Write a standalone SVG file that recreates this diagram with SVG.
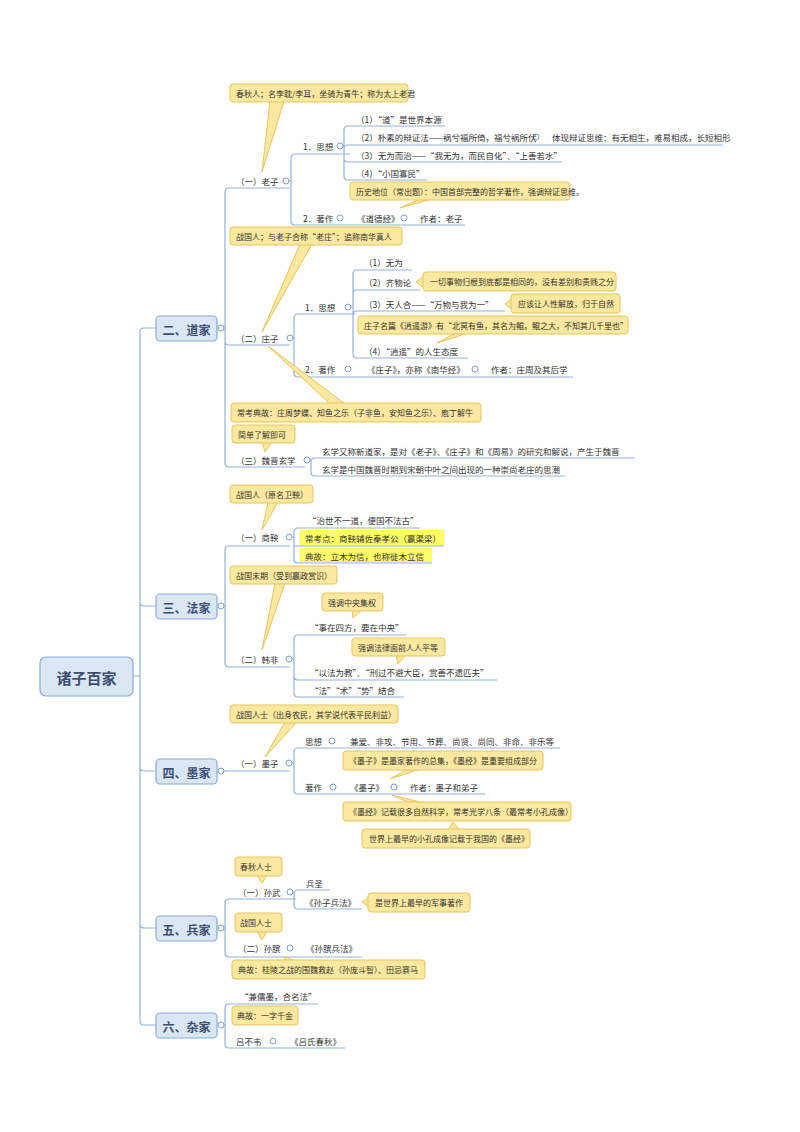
<svg xmlns="http://www.w3.org/2000/svg" width="800" height="1132" viewBox="0 0 800 1132">
<style>
.ln{fill:none;stroke:#93b1dc;stroke-width:1.2}
.c{fill:#fff;stroke:#7d9fd2;stroke-width:1}
text{font-family:"Noto Sans CJK SC","Noto Sans",sans-serif;font-size:8.5px;fill:#333;dominant-baseline:central}
.br rect{fill:#dbe6f4;stroke:#8aaad6;stroke-width:1.2}
.br text{font-size:12px;font-weight:bold;fill:#3a4f72;text-anchor:middle}
.co rect,.co path{fill:#fce89e;stroke:#e5c55e;stroke-width:1}
.co text{font-size:8px}
.hl{fill:#ffff66}
</style>
<rect width="800" height="1132" fill="#fff"/>
<g id="connectors">
<path class="ln" d="M133,676 H140 V332 Q140,328 144,328 H156 M140,676 V1021 Q140,1025 144,1025 H156 M140,602 Q140,606 144,606 H156 M140,767 Q140,771 144,771 H156 M140,924 Q140,928 144,928 H156"/>
<path class="ln" d="M224,328 H225 V192 Q225,188 229,188 H290 M225,328 V463 Q225,467 229,467 H305 M225,341 Q225,345 229,345 H290"/>
<path class="ln" d="M289,181 H291 V158 Q291,154 295,154 H350 M291,181 V221 Q291,225 295,225 H465"/>
<path class="ln" d="M343,146 H344 V130 Q344,126 348,126 H445 M344,146 V176 Q344,180 348,180 H427 M344,149 Q344,145 348,145 H723 M344,158 Q344,162 348,162 H562"/>
<path class="ln" d="M293,338 H294 V318 Q294,314 298,314 H355 M294,338 V373 Q294,377 298,377 H573"/>
<path class="ln" d="M351,307 H353 V274 Q353,270 357,270 H412 M353,307 V354 Q353,358 357,358 H468 M353,294 Q353,290 357,290 H420 M353,315 Q353,311 357,311 H505"/>
<path class="ln" d="M310,460 H311 V462 Q311,458 315,458 H635 M311,460 V472 Q311,476 315,476 H565"/>
<path class="ln" d="M224,606 H225 V550 Q225,546 229,546 H290 M225,606 V663 Q225,667 229,667 H290"/>
<path class="ln" d="M292,537 H294 V532 Q294,528 298,528 H420 M294,537 V559 Q294,563 298,563 H432 M294,546 H444"/>
<path class="ln" d="M292,659 H294 V639 Q294,635 298,635 H406 M294,659 V693 Q294,697 298,697 H404 M294,676 Q294,680 298,680 H497"/>
<path class="ln" d="M224,771 H290"/>
<path class="ln" d="M292,763 H294 V752 Q294,748 298,748 H560 M294,763 V790 Q294,794 298,794 H485"/>
<path class="ln" d="M224,928 H225 V903 Q225,899 229,899 H296 M225,928 V953 Q225,957 229,957 H362"/>
<path class="ln" d="M293,892 H294 V894 Q294,890 298,890 H330 M294,892 V905 Q294,909 298,909 H362"/>
<path class="ln" d="M224,1025 H225 V1008 Q225,1004 229,1004 H318 M225,1025 V1044 Q225,1048 229,1048 H345"/>
</g>
<g id="root" class="br"><rect x="40" y="657" width="93" height="39" rx="6"/><text x="86.5" y="677" style="font-size:15px">诸子百家</text></g>
<g id="daojia" class="br"><rect x="156" y="316" width="61" height="25" rx="4"/><text x="186.5" y="329">二、道家</text></g>
<g id="fajia" class="br"><rect x="156" y="594" width="61" height="25" rx="4"/><text x="186.5" y="607">三、法家</text></g>
<g id="mojia" class="br"><rect x="156" y="759" width="61" height="25" rx="4"/><text x="186.5" y="772">四、墨家</text></g>
<g id="bingjia" class="br"><rect x="156" y="916" width="61" height="25" rx="4"/><text x="186.5" y="929">五、兵家</text></g>
<g id="zajia" class="br"><rect x="156" y="1013" width="61" height="25" rx="4"/><text x="186.5" y="1026">六、杂家</text></g>
<g id="circles">
<circle class="c" cx="221" cy="328" r="3"/><circle class="c" cx="221" cy="606" r="3"/><circle class="c" cx="221" cy="771" r="3"/><circle class="c" cx="221" cy="928" r="3"/><circle class="c" cx="221" cy="1025" r="3"/>
<circle class="c" cx="286" cy="181" r="3"/><circle class="c" cx="340" cy="146" r="3"/><circle class="c" cx="536" cy="137" r="3"/><circle class="c" cx="340" cy="218" r="3"/><circle class="c" cx="404" cy="218" r="3"/>
<circle class="c" cx="290" cy="338" r="3"/><circle class="c" cx="348" cy="307" r="3"/><circle class="c" cx="348" cy="369" r="3"/><circle class="c" cx="475" cy="369" r="3"/><circle class="c" cx="307" cy="460" r="3"/>
<circle class="c" cx="289" cy="537" r="3"/><circle class="c" cx="289" cy="659" r="3"/>
<circle class="c" cx="289" cy="763" r="3"/><circle class="c" cx="332" cy="741" r="3"/><circle class="c" cx="333" cy="787" r="3"/><circle class="c" cx="394" cy="787" r="3"/>
<circle class="c" cx="290" cy="892" r="3"/><circle class="c" cx="290" cy="948" r="3"/><circle class="c" cx="273" cy="1041" r="3"/>
</g>
<g id="laozi">
<text x="236" y="181">（一）老子</text>
<text x="303" y="146">1．思想</text>
<text x="356" y="119">（1）“道”是世界本源</text>
<text x="356" y="137">（2）朴素的辩证法——祸兮福所倚，福兮祸所伏</text>
<text x="552" y="137">体现辩证思维：有无相生，难易相成，长短相形</text>
<text x="356" y="155">（3）无为而治——“我无为，而民自化”、“上善若水”</text>
<text x="356" y="173">（4）“小国寡民”</text>
<text x="303" y="218">2．著作</text>
<text x="357" y="218">《道德经》</text>
<text x="420" y="218">作者：老子</text>
</g>
<g id="zhuangzi">
<text x="236" y="338">（二）庄子</text>
<text x="305" y="307">1．思想</text>
<text x="364" y="262">（1）无为</text>
<text x="364" y="282">（2）齐物论</text>
<text x="364" y="304">（3）天人合——“万物与我为一”</text>
<text x="364" y="351">（4）“逍遥”的人生态度</text>
<text x="305" y="369">2．著作</text>
<text x="367" y="369">《庄子》，亦称《南华经》</text>
<text x="491" y="369">作者：庄周及其后学</text>
<text x="236" y="460">（三）魏晋玄学</text>
<text x="322" y="451">玄学又称新道家，是对《老子》、《庄子》和《周易》的研究和解说，产生于魏晋</text>
<text x="322" y="469">玄学是中国魏晋时期到宋朝中叶之间出现的一种崇尚老庄的思潮</text>
</g>
<g id="fa">
<text x="236" y="537">（一）商鞅</text>
<text x="308" y="520">“治世不一道，便国不法古”</text>
<rect class="hl" x="300" y="530" width="144" height="15"/><text x="305" y="538">常考点：商鞅辅佐秦孝公（赢渠梁）</text>
<rect class="hl" x="300" y="548" width="132" height="14"/><text x="305" y="556">典故：立木为信，也称徙木立信</text>
<text x="236" y="659">（二）韩非</text>
<text x="310" y="627">“事在四方，要在中央”</text>
<text x="310" y="672">“以法为教”、“刑过不避大臣，赏善不遗匹夫”</text>
<text x="310" y="690">“法”“术”“势”结合</text>
</g>
<g id="mo">
<text x="236" y="763">（一）墨子</text>
<text x="305" y="741">思想</text>
<text x="350" y="741">兼爱、非攻、节用、节葬、尚贤、尚同、非命、非乐等</text>
<text x="305" y="787">著作</text>
<text x="350" y="787">《墨子》</text>
<text x="410" y="787">作者：墨子和弟子</text>
</g>
<g id="bing">
<text x="238" y="892">（一）孙武</text>
<text x="306" y="883">兵圣</text>
<text x="305" y="902">《孙子兵法》</text>
<text x="238" y="948">（二）孙膑</text>
<text x="306" y="948">《孙膑兵法》</text>
</g>
<g id="za">
<text x="240" y="996">“兼儒墨，合名法”</text>
<text x="236" y="1041">吕不韦</text>
<text x="290" y="1041">《吕氏春秋》</text>
</g>
<g id="callouts">
<g class="co"><path d="M262,172 L270,101 L284,101 Z"/><rect x="230" y="84" width="178" height="18" rx="3"/><text x="236" y="93">春秋人；名李耽/李耳，坐骑为青牛；称为太上老君</text></g>
<g class="co"><path d="M400,208 L420,199 L432,199 Z"/><rect x="350" y="182" width="220" height="18" rx="3"/><text x="356" y="191">历史地位（常出题）：中国首部完整的哲学著作，强调辩证思维。</text></g>
<g class="co"><path d="M262,332 L300,244 L312,244 Z"/><rect x="230" y="227" width="172" height="18" rx="3"/><text x="236" y="236">战国人；与老子合称“老庄”；追称南华真人</text></g>
<g class="co"><path d="M416,282 L424,276 L424,288 Z"/><rect x="423" y="272" width="193" height="19" rx="3"/><text x="430" y="281.5">一切事物归根到底都是相同的，没有差别和贵贱之分</text></g>
<g class="co"><path d="M505,304 L512,298 L512,310 Z"/><rect x="511" y="294" width="109" height="19" rx="3"/><text x="518" y="303.5">应该让人性解放，归于自然</text></g>
<g class="co"><path d="M437,343 L455,333 L468,333 Z"/><rect x="358" y="316" width="270" height="18" rx="3"/><text x="364" y="325">庄子名篇《逍遥游》有“北冥有鱼，其名为鲲。鲲之大，不知其几千里也”</text></g>
<g class="co"><path d="M268,346 L330,404 L345,404 Z"/><rect x="231" y="403" width="250" height="19" rx="3"/><text x="237" y="412.5">常考典故：庄周梦蝶、知鱼之乐（子非鱼，安知鱼之乐）、庖丁解牛</text></g>
<g class="co"><path d="M265,452 L262,442 L272,442 Z"/><rect x="232" y="425" width="63" height="18" rx="3"/><text x="238" y="434">简单了解即可</text></g>
<g class="co"><path d="M262,530 L268,502 L278,502 Z"/><rect x="230" y="485" width="83" height="18" rx="3"/><text x="236" y="494">战国人（原名卫鞅）</text></g>
<g class="co"><path d="M262,650 L275,583 L285,583 Z"/><rect x="230" y="566" width="107" height="18" rx="3"/><text x="236" y="575">战国末期（受到嬴政赏识）</text></g>
<g class="co"><path d="M353,618 L352,610 L362,610 Z"/><rect x="322" y="593" width="61" height="18" rx="3"/><text x="328" y="602">强调中央集权</text></g>
<g class="co"><path d="M398,664 L396,655 L406,655 Z"/><rect x="352" y="638" width="93" height="18" rx="3"/><text x="358" y="647">强调法律面前人人平等</text></g>
<g class="co"><path d="M265,757 L285,722 L297,722 Z"/><rect x="230" y="705" width="168" height="18" rx="3"/><text x="236" y="714">战国人士（出身农民，其学说代表平民利益）</text></g>
<g class="co"><path d="M390,779 L408,769 L420,769 Z"/><rect x="343" y="751" width="200" height="19" rx="3"/><text x="349" y="760.5">《墨子》是墨家著作的总集，《墨经》是重要组成部分</text></g>
<g class="co"><path d="M392,795 L410,803 L424,803 Z"/><rect x="343" y="802" width="228" height="19" rx="3"/><text x="349" y="811.5">《墨经》记载很多自然科学，常考光学八条（最常考小孔成像）</text></g>
<g class="co"><path d="M453,822 L448,830 L460,830 Z"/><rect x="362" y="829" width="168" height="19" rx="3"/><text x="369" y="838.5">世界上最早的小孔成像记载于我国的《墨经》</text></g>
<g class="co"><path d="M262,883 L257,875 L267,875 Z"/><rect x="235" y="857" width="47" height="19" rx="3"/><text x="240" y="866.5">春秋人士</text></g>
<g class="co"><path d="M362,902 L369,897 L369,907 Z"/><rect x="368" y="893" width="102" height="19" rx="3"/><text x="375" y="902.5">是世界上最早的军事著作</text></g>
<g class="co"><path d="M262,940 L257,931 L267,931 Z"/><rect x="235" y="913" width="47" height="19" rx="3"/><text x="240" y="922.5">战国人士</text></g>
<g class="co"><path d="M285,957 L284,961 L296,961 Z"/><rect x="232" y="960" width="193" height="19" rx="3"/><text x="238" y="969.5">典故：桂陵之战的围魏救赵（孙庞斗智）、田忌赛马</text></g>
<g class="co"><rect x="232" y="1006" width="66" height="19" rx="3"/><text x="237" y="1015.5">典故：一字千金</text></g>
</g>
</svg>
